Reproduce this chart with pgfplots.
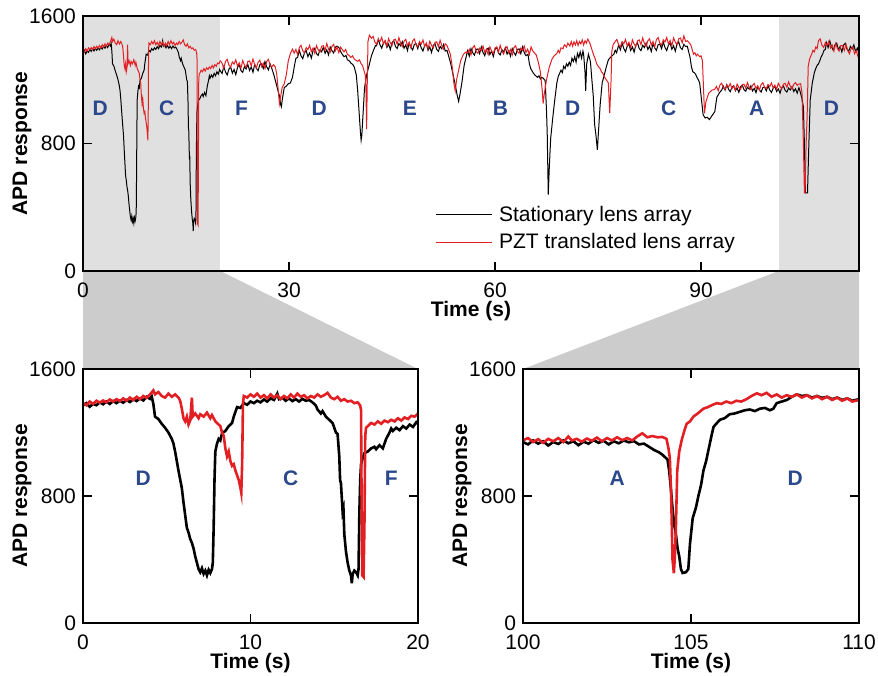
\documentclass[border=0pt]{standalone}
\usepackage{fontspec}
\setmainfont{Liberation Sans}
\usepackage{pgfplots}
\pgfplotsset{compat=1.18}
\usetikzlibrary{backgrounds}

\definecolor{traceRed}{RGB}{226,32,36}
\definecolor{letterBlue}{RGB}{44,72,140}
\definecolor{zoomLight}{RGB}{224,224,224}
\definecolor{zoomDark}{RGB}{204,204,204}

% stationary lens array, 0-20 s
\pgfplotstableread[row sep=\\]{t v\\
0.0 1370\\ 0.2 1385\\ 0.4 1362\\ 0.6 1380\\ 0.8 1372\\ 1.0 1390\\ 1.2 1378\\ 1.4 1395\\ 1.6 1380\\ 1.8 1398\\
2.0 1385\\ 2.2 1400\\ 2.4 1388\\ 2.6 1405\\ 2.8 1392\\ 3.0 1410\\ 3.2 1398\\ 3.4 1415\\ 3.6 1402\\ 3.8 1425\\
4.0 1412\\ 4.1 1428\\ 4.2 1380\\ 4.3 1300\\ 4.5 1285\\ 4.7 1255\\ 4.9 1230\\ 5.1 1200\\ 5.3 1160\\ 5.4 1130\\
5.5 1080\\ 5.6 1020\\ 5.7 960\\ 5.8 905\\ 5.9 850\\ 6.0 760\\ 6.1 680\\ 6.2 600\\ 6.3 570\\ 6.4 530\\
6.5 505\\ 6.6 470\\ 6.7 420\\ 6.8 380\\ 6.9 340\\ 7.0 320\\ 7.1 345\\ 7.2 310\\ 7.3 330\\ 7.4 300\\
7.5 335\\ 7.6 315\\ 7.7 340\\ 7.75 380\\ 7.8 600\\ 7.85 900\\ 7.9 1080\\ 8.0 1130\\ 8.1 1160\\ 8.2 1150\\
8.3 1195\\ 8.5 1210\\ 8.7 1240\\ 8.9 1260\\ 9.0 1300\\ 9.1 1330\\ 9.2 1360\\ 9.4 1355\\ 9.6 1385\\ 9.8 1375\\
10.0 1395\\ 10.2 1385\\ 10.4 1400\\ 10.6 1390\\ 10.8 1408\\ 11.0 1395\\ 11.2 1415\\ 11.4 1405\\ 11.6 1445\\ 11.7 1410\\
11.9 1420\\ 12.1 1400\\ 12.3 1415\\ 12.5 1398\\ 12.7 1410\\ 12.9 1395\\ 13.1 1412\\ 13.3 1400\\ 13.5 1405\\ 13.7 1390\\
13.9 1370\\ 14.0 1345\\ 14.2 1320\\ 14.3 1335\\ 14.5 1300\\ 14.7 1280\\ 14.9 1260\\ 15.0 1230\\ 15.1 1200\\ 15.2 1190\\
15.3 1050\\ 15.35 900\\ 15.4 880\\ 15.5 700\\ 15.55 720\\ 15.6 560\\ 15.7 450\\ 15.8 380\\ 15.9 330\\ 16.0 300\\
16.05 250\\ 16.1 310\\ 16.2 330\\ 16.3 320\\ 16.4 300\\ 16.45 340\\ 16.5 700\\ 16.55 900\\ 16.6 1000\\ 16.7 1040\\
16.8 1070\\ 17.0 1080\\ 17.2 1100\\ 17.4 1110\\ 17.5 1095\\ 17.7 1120\\ 17.9 1100\\ 18.0 1130\\ 18.1 1160\\ 18.3 1200\\
18.4 1225\\ 18.5 1210\\ 18.7 1230\\ 18.9 1215\\ 19.1 1240\\ 19.3 1225\\ 19.5 1250\\ 19.7 1235\\ 19.9 1265\\ 20.0 1255\\
}\blackA

% PZT translated lens array, 0-20 s
\pgfplotstableread[row sep=\\]{t v\\
0.0 1385\\ 0.2 1372\\ 0.4 1395\\ 0.6 1380\\ 0.8 1400\\ 1.0 1388\\ 1.2 1402\\ 1.4 1390\\ 1.6 1408\\ 1.8 1395\\
2.0 1410\\ 2.2 1398\\ 2.4 1415\\ 2.6 1400\\ 2.8 1420\\ 3.0 1405\\ 3.2 1425\\ 3.4 1410\\ 3.6 1430\\ 3.8 1418\\
4.0 1440\\ 4.2 1465\\ 4.3 1440\\ 4.5 1455\\ 4.7 1430\\ 4.9 1420\\ 5.1 1445\\ 5.3 1425\\ 5.5 1440\\ 5.7 1420\\
5.8 1400\\ 5.9 1350\\ 6.0 1290\\ 6.1 1270\\ 6.2 1300\\ 6.3 1250\\ 6.4 1275\\ 6.5 1420\\ 6.55 1300\\ 6.7 1320\\
6.9 1290\\ 7.0 1315\\ 7.2 1300\\ 7.4 1325\\ 7.6 1290\\ 7.7 1310\\ 7.9 1270\\ 8.0 1260\\ 8.2 1240\\ 8.3 1200\\
8.4 1180\\ 8.5 1100\\ 8.6 1050\\ 8.7 1080\\ 8.8 1020\\ 8.9 990\\ 9.0 1000\\ 9.1 960\\ 9.2 930\\ 9.3 900\\
9.4 850\\ 9.45 820\\ 9.5 1000\\ 9.55 1380\\ 9.6 1430\\ 9.8 1420\\ 10.0 1440\\ 10.2 1425\\ 10.4 1445\\ 10.6 1420\\
10.8 1435\\ 11.0 1415\\ 11.2 1440\\ 11.4 1420\\ 11.6 1435\\ 11.8 1410\\ 12.0 1430\\ 12.2 1415\\ 12.4 1440\\ 12.6 1420\\
12.8 1445\\ 13.0 1425\\ 13.2 1435\\ 13.4 1415\\ 13.6 1430\\ 13.8 1420\\ 14.0 1440\\ 14.2 1425\\ 14.4 1435\\ 14.6 1450\\
14.8 1420\\ 15.0 1410\\ 15.2 1425\\ 15.4 1400\\ 15.6 1410\\ 15.8 1395\\ 16.0 1400\\ 16.2 1385\\ 16.4 1390\\ 16.55 1370\\
16.6 1340\\ 16.63 800\\ 16.67 300\\ 16.75 290\\ 16.8 600\\ 16.85 1180\\ 16.9 1230\\ 17.0 1240\\ 17.2 1260\\ 17.4 1250\\
17.6 1270\\ 17.8 1255\\ 18.0 1275\\ 18.2 1265\\ 18.4 1280\\ 18.6 1270\\ 18.8 1290\\ 19.0 1275\\ 19.2 1295\\ 19.4 1285\\
19.6 1305\\ 19.8 1300\\ 20.0 1320\\
}\redA

% stationary lens array, 20-113 s (overview only)
\pgfplotstableread[row sep=\\]{t v\\
20.0 1255\\ 20.25 1239\\ 20.5 1283\\ 20.75 1249\\ 21.0 1230\\ 21.25 1267\\ 21.5 1280\\ 21.75 1241\\ 22.0 1265\\ 22.25 1232\\
22.5 1278\\ 22.75 1293\\ 23.0 1258\\ 23.25 1247\\ 23.5 1281\\ 23.75 1268\\ 24.0 1296\\ 24.25 1258\\ 24.5 1280\\ 24.75 1247\\
25.0 1297\\ 25.25 1272\\ 25.5 1257\\ 25.75 1294\\ 26.0 1300\\ 26.25 1271\\ 26.5 1314\\ 26.75 1281\\ 27.0 1262\\ 27.25 1298\\
27.5 1270\\ 27.8 1230\\ 28.1 1180\\ 28.4 1130\\ 28.6 1100\\ 28.8 1040\\ 28.9 1030\\ 29.0 1070\\ 29.3 1150\\ 29.6 1160\\
29.9 1175\\ 30.2 1180\\ 30.5 1215\\ 30.8 1290\\ 31.0 1335\\ 31.25 1340\\ 31.5 1384\\ 31.75 1350\\ 32.0 1332\\ 32.25 1369\\
32.5 1383\\ 32.75 1345\\ 33.0 1368\\ 33.25 1336\\ 33.5 1383\\ 33.75 1398\\ 34.0 1364\\ 34.25 1353\\ 34.5 1387\\ 34.75 1375\\
35.0 1404\\ 35.25 1366\\ 35.5 1388\\ 35.75 1356\\ 36.0 1406\\ 36.25 1382\\ 36.5 1368\\ 36.75 1405\\ 37.0 1411\\ 37.3 1400\\
37.6 1370\\ 38.0 1345\\ 38.3 1352\\ 38.5 1325\\ 38.8 1318\\ 39.0 1305\\ 39.3 1295\\ 39.5 1280\\ 39.8 1230\\ 40.0 1130\\
40.2 1000\\ 40.4 870\\ 40.5 820\\ 40.6 850\\ 40.8 1000\\ 41.0 1150\\ 41.3 1230\\ 41.6 1280\\ 42.0 1350\\ 42.3 1385\\
42.6 1415\\ 42.75 1413\\ 43.0 1454\\ 43.25 1419\\ 43.5 1398\\ 43.75 1432\\ 44.0 1443\\ 44.25 1403\\ 44.5 1424\\ 44.75 1389\\
45.0 1433\\ 45.25 1446\\ 45.5 1409\\ 45.75 1396\\ 46.0 1427\\ 46.25 1413\\ 46.5 1439\\ 46.75 1398\\ 47.0 1418\\ 47.25 1383\\
47.5 1431\\ 47.75 1404\\ 48.0 1387\\ 48.25 1422\\ 48.5 1426\\ 48.75 1395\\ 49.0 1436\\ 49.25 1400\\ 49.5 1380\\ 49.75 1414\\
50.0 1425\\ 50.25 1384\\ 50.5 1406\\ 50.75 1371\\ 51.0 1415\\ 51.25 1427\\ 51.5 1391\\ 51.75 1378\\ 52.0 1409\\ 52.25 1394\\
52.5 1421\\ 52.75 1380\\ 53.0 1385\\ 53.5 1310\\ 53.8 1250\\ 54.2 1170\\ 54.5 1100\\ 54.7 1065\\ 54.9 1110\\ 55.2 1190\\
55.5 1290\\ 55.8 1345\\ 56.0 1382\\ 56.25 1348\\ 56.5 1396\\ 56.75 1370\\ 57.0 1354\\ 57.25 1390\\ 57.5 1394\\ 57.75 1364\\
58.0 1406\\ 58.25 1371\\ 58.5 1351\\ 58.75 1386\\ 59.0 1398\\ 59.25 1358\\ 59.5 1380\\ 59.75 1346\\ 60.0 1391\\ 60.25 1404\\
60.5 1368\\ 60.75 1356\\ 61.0 1388\\ 61.25 1374\\ 61.5 1401\\ 61.75 1361\\ 62.0 1382\\ 62.25 1348\\ 62.5 1396\\ 62.75 1370\\
63.0 1354\\ 63.25 1390\\ 63.5 1394\\ 63.75 1364\\ 64.0 1406\\ 64.25 1371\\ 64.5 1351\\ 64.8 1360\\ 65.0 1300\\ 65.2 1270\\
65.4 1255\\ 65.6 1240\\ 65.8 1230\\ 66.0 1222\\ 66.2 1215\\ 66.4 1225\\ 66.6 1205\\ 66.8 1215\\ 67.0 1210\\ 67.3 1195\\
67.5 1000\\ 67.6 860\\ 67.75 480\\ 67.9 650\\ 68.1 830\\ 68.4 960\\ 68.7 1075\\ 69.0 1180\\ 69.2 1220\\ 69.4 1240\\
69.6 1260\\ 69.8 1245\\ 70.0 1285\\ 70.2 1270\\ 70.4 1300\\ 70.6 1285\\ 70.8 1310\\ 71.0 1290\\ 71.2 1335\\ 71.4 1315\\
71.6 1345\\ 71.8 1310\\ 72.0 1365\\ 72.2 1340\\ 72.4 1375\\ 72.6 1335\\ 72.8 1380\\ 72.9 1360\\ 73.1 1250\\ 73.2 1130\\
73.35 1300\\ 73.6 1360\\ 73.8 1330\\ 73.9 1310\\ 74.1 1200\\ 74.3 1100\\ 74.5 920\\ 74.7 850\\ 74.9 760\\ 75.1 900\\
75.3 1040\\ 75.6 1180\\ 75.9 1230\\ 76.2 1280\\ 76.5 1325\\ 76.9 1345\\ 77.3 1360\\ 77.5 1385\\ 77.7 1370\\ 78.0 1418\\
78.25 1388\\ 78.5 1430\\ 78.75 1396\\ 79.0 1376\\ 79.25 1411\\ 79.5 1423\\ 79.75 1384\\ 80.0 1406\\ 80.25 1373\\ 80.5 1418\\
80.75 1431\\ 81.0 1395\\ 81.25 1383\\ 81.5 1416\\ 81.75 1402\\ 82.0 1430\\ 82.25 1390\\ 82.5 1411\\ 82.75 1377\\ 83.0 1426\\
83.25 1400\\ 83.5 1384\\ 83.75 1420\\ 84.0 1424\\ 84.25 1395\\ 84.5 1437\\ 84.75 1402\\ 85.0 1383\\ 85.25 1418\\ 85.5 1430\\
85.75 1391\\ 86.0 1413\\ 86.25 1379\\ 86.5 1424\\ 86.75 1437\\ 87.0 1401\\ 87.25 1390\\ 87.5 1422\\ 87.75 1408\\ 88.0 1410\\
88.4 1340\\ 88.6 1280\\ 88.8 1250\\ 89.0 1245\\ 89.2 1235\\ 89.4 1215\\ 89.6 1200\\ 89.8 1180\\ 90.0 1100\\ 90.3 980\\
90.6 960\\ 90.9 965\\ 91.2 950\\ 91.6 975\\ 92.0 1000\\ 92.3 1090\\ 92.7 1120\\ 93.0 1135\\ 93.25 1159\\ 93.5 1135\\
93.75 1169\\ 94.0 1141\\ 94.25 1125\\ 94.5 1153\\ 94.75 1163\\ 95.0 1131\\ 95.25 1148\\ 95.5 1121\\ 95.75 1156\\ 96.0 1166\\
96.25 1138\\ 96.5 1128\\ 96.75 1153\\ 97.0 1141\\ 97.25 1162\\ 97.5 1130\\ 97.75 1146\\ 98.0 1119\\ 98.25 1157\\ 98.5 1136\\
98.75 1123\\ 99.0 1151\\ 99.25 1154\\ 99.5 1130\\ 99.75 1163\\ 100.0 1136\\ 100.25 1120\\ 100.5 1147\\ 100.75 1157\\ 101.0 1126\\
101.25 1142\\ 101.5 1116\\ 101.75 1151\\ 102.0 1160\\ 102.25 1133\\ 102.5 1123\\ 102.75 1148\\ 103.0 1136\\ 103.25 1157\\ 103.5 1126\\
103.75 1143\\ 104.0 1116\\ 104.25 1150\\ 104.4 1130\\ 104.7 1080\\ 104.9 1030\\ 105.05 800\\ 105.2 490\\ 105.5 490\\ 105.7 800\\
105.9 1075\\ 106.2 1180\\ 106.5 1245\\ 106.7 1270\\ 106.9 1290\\ 107.1 1300\\ 107.3 1320\\ 107.5 1345\\ 107.7 1360\\ 107.9 1385\\
108.1 1390\\ 108.25 1433\\ 108.5 1402\\ 108.75 1443\\ 109.0 1406\\ 109.25 1385\\ 109.5 1419\\ 109.75 1430\\ 110.0 1388\\ 110.25 1409\\
110.5 1374\\ 110.75 1417\\ 111.0 1429\\ 111.25 1392\\ 111.5 1378\\ 111.75 1409\\ 112.0 1394\\ 112.25 1419\\ 112.5 1378\\ 112.75 1398\\
113.0 1362\\
}\blackB

% PZT translated lens array, 20-113 s (overview only)
\pgfplotstableread[row sep=\\]{t v\\
20.0 1320\\ 20.25 1304\\ 20.5 1270\\ 20.75 1315\\ 21.0 1328\\ 21.25 1292\\ 21.5 1280\\ 21.75 1312\\ 22.0 1298\\ 22.25 1325\\
22.5 1285\\ 22.75 1306\\ 23.0 1272\\ 23.25 1320\\ 23.5 1294\\ 23.75 1278\\ 24.0 1314\\ 24.25 1318\\ 24.5 1288\\ 24.75 1330\\
25.0 1295\\ 25.25 1275\\ 25.5 1310\\ 25.75 1322\\ 26.0 1282\\ 26.25 1304\\ 26.5 1270\\ 26.75 1315\\ 27.0 1328\\ 27.25 1292\\
27.5 1280\\ 27.75 1295\\ 28.0 1280\\ 28.2 1240\\ 28.4 1150\\ 28.6 1050\\ 28.8 1100\\ 29.0 1150\\ 29.3 1175\\ 29.6 1230\\
29.9 1320\\ 30.2 1365\\ 30.5 1392\\ 30.75 1367\\ 31.0 1390\\ 31.25 1357\\ 31.5 1402\\ 31.75 1416\\ 32.0 1381\\ 32.25 1369\\
32.5 1402\\ 32.75 1389\\ 33.0 1416\\ 33.25 1377\\ 33.5 1399\\ 33.75 1366\\ 34.0 1414\\ 34.25 1389\\ 34.5 1373\\ 34.75 1410\\
35.0 1414\\ 35.25 1385\\ 35.5 1428\\ 35.75 1393\\ 36.0 1373\\ 36.25 1409\\ 36.5 1422\\ 36.75 1382\\ 37.0 1404\\ 37.25 1370\\
37.5 1405\\ 38.0 1375\\ 38.25 1390\\ 38.5 1360\\ 38.75 1352\\ 39.0 1340\\ 39.25 1350\\ 39.5 1330\\ 39.75 1322\\ 40.0 1315\\
40.25 1325\\ 40.5 1300\\ 40.7 1290\\ 40.9 1260\\ 41.1 1230\\ 41.2 1150\\ 41.3 890\\ 41.4 1200\\ 41.5 1440\\ 41.7 1480\\
42.0 1460\\ 42.25 1472\\ 42.5 1436\\ 42.75 1423\\ 43.0 1454\\ 43.25 1440\\ 43.5 1466\\ 43.75 1425\\ 44.0 1446\\ 44.25 1411\\
44.5 1458\\ 44.75 1432\\ 45.0 1415\\ 45.25 1450\\ 45.5 1454\\ 45.75 1423\\ 46.0 1464\\ 46.25 1429\\ 46.5 1408\\ 46.75 1442\\
47.0 1454\\ 47.25 1413\\ 47.5 1434\\ 47.75 1400\\ 48.0 1444\\ 48.25 1456\\ 48.5 1420\\ 48.75 1407\\ 49.0 1438\\ 49.25 1424\\
49.5 1450\\ 49.75 1409\\ 50.0 1430\\ 50.25 1395\\ 50.5 1442\\ 50.75 1416\\ 51.0 1399\\ 51.25 1434\\ 51.5 1438\\ 51.75 1407\\
52.0 1448\\ 52.25 1413\\ 52.5 1392\\ 52.75 1426\\ 53.0 1415\\ 53.5 1360\\ 53.8 1270\\ 54.0 1180\\ 54.2 1130\\ 54.4 1200\\
54.7 1260\\ 55.0 1320\\ 55.4 1360\\ 55.8 1375\\ 56.0 1368\\ 56.25 1390\\ 56.5 1356\\ 56.75 1401\\ 57.0 1414\\ 57.25 1378\\
57.5 1366\\ 57.75 1398\\ 58.0 1384\\ 58.25 1411\\ 58.5 1371\\ 58.75 1392\\ 59.0 1358\\ 59.25 1406\\ 59.5 1380\\ 59.75 1364\\
60.0 1400\\ 60.25 1404\\ 60.5 1374\\ 60.75 1416\\ 61.0 1381\\ 61.25 1361\\ 61.5 1396\\ 61.75 1408\\ 62.0 1368\\ 62.25 1390\\
62.5 1356\\ 62.75 1401\\ 63.0 1414\\ 63.25 1378\\ 63.5 1366\\ 63.75 1398\\ 64.0 1384\\ 64.25 1411\\ 64.5 1371\\ 64.75 1392\\
65.0 1358\\ 65.25 1406\\ 65.5 1380\\ 66.0 1356\\ 66.3 1310\\ 66.6 1250\\ 66.9 1120\\ 67.0 1050\\ 67.2 1120\\ 67.5 1200\\
67.9 1280\\ 68.3 1330\\ 68.6 1350\\ 69.0 1365\\ 69.2 1385\\ 69.4 1370\\ 69.6 1400\\ 69.9 1395\\ 70.1 1420\\ 70.4 1405\\
70.6 1430\\ 70.9 1412\\ 71.1 1440\\ 71.3 1410\\ 71.5 1438\\ 71.7 1418\\ 71.9 1445\\ 72.1 1415\\ 72.3 1440\\ 72.5 1425\\
72.7 1450\\ 72.9 1418\\ 73.1 1445\\ 73.3 1430\\ 73.5 1455\\ 73.8 1430\\ 74.1 1390\\ 74.4 1350\\ 74.6 1330\\ 74.8 1300\\
75.1 1280\\ 75.3 1270\\ 75.5 1250\\ 75.7 1240\\ 75.9 1220\\ 76.2 1200\\ 76.5 1180\\ 76.7 990\\ 76.9 1200\\ 77.0 1380\\
77.2 1420\\ 77.5 1440\\ 77.75 1453\\ 78.0 1418\\ 78.25 1406\\ 78.5 1439\\ 78.75 1425\\ 79.0 1453\\ 79.25 1413\\ 79.5 1435\\
79.75 1401\\ 80.0 1450\\ 80.25 1424\\ 80.5 1409\\ 80.75 1445\\ 81.0 1450\\ 81.25 1420\\ 81.5 1463\\ 81.75 1428\\ 82.0 1409\\
82.25 1444\\ 82.5 1457\\ 82.75 1417\\ 83.0 1440\\ 83.25 1406\\ 83.5 1452\\ 83.75 1465\\ 84.0 1430\\ 84.25 1418\\ 84.5 1451\\
84.75 1437\\ 85.0 1465\\ 85.25 1425\\ 85.5 1447\\ 85.75 1413\\ 86.0 1462\\ 86.25 1436\\ 86.5 1421\\ 86.75 1457\\ 87.0 1462\\
87.25 1432\\ 87.5 1475\\ 87.75 1440\\ 88.0 1445\\ 88.5 1420\\ 88.9 1360\\ 89.1 1370\\ 89.3 1350\\ 89.5 1360\\ 89.8 1345\\
90.0 1350\\ 90.2 1320\\ 90.4 1100\\ 90.5 990\\ 90.7 1060\\ 91.1 1115\\ 91.6 1135\\ 92.0 1141\\ 92.25 1158\\ 92.5 1131\\
92.75 1167\\ 93.0 1178\\ 93.25 1150\\ 93.5 1140\\ 93.75 1166\\ 94.0 1154\\ 94.25 1176\\ 94.5 1144\\ 94.75 1161\\ 95.0 1135\\
95.25 1173\\ 95.5 1152\\ 95.75 1139\\ 96.0 1168\\ 96.25 1172\\ 96.5 1148\\ 96.75 1182\\ 97.0 1154\\ 97.25 1138\\ 97.5 1166\\
97.75 1176\\ 98.0 1145\\ 98.25 1162\\ 98.5 1135\\ 98.75 1171\\ 99.0 1181\\ 99.25 1154\\ 99.5 1144\\ 99.75 1170\\ 100.0 1158\\
100.25 1180\\ 100.5 1149\\ 100.75 1166\\ 101.0 1140\\ 101.25 1178\\ 101.5 1157\\ 101.75 1144\\ 102.0 1173\\ 102.25 1177\\ 102.5 1153\\
102.75 1187\\ 103.0 1159\\ 103.25 1143\\ 103.5 1172\\ 103.75 1182\\ 104.0 1165\\ 104.2 1172\\ 104.5 1175\\ 104.7 1115\\ 104.9 800\\
105.05 490\\ 105.15 490\\ 105.3 800\\ 105.45 970\\ 105.6 1283\\ 105.8 1330\\ 106.1 1360\\ 106.3 1385\\ 106.5 1375\\ 106.7 1405\\
106.9 1395\\ 107.1 1445\\ 107.35 1456\\ 107.6 1417\\ 107.85 1403\\ 108.1 1433\\ 108.35 1416\\ 108.6 1441\\ 108.85 1399\\ 109.1 1417\\
109.35 1381\\ 109.6 1427\\ 109.85 1398\\ 110.1 1380\\ 110.35 1414\\ 110.6 1415\\ 110.85 1383\\ 111.1 1423\\ 111.35 1385\\ 111.6 1363\\
111.85 1396\\ 112.1 1405\\ 112.35 1363\\ 112.6 1383\\ 112.85 1346\\ 113.0 1375\\
}\redB

% stationary lens array, 100-110 s
\pgfplotstableread[row sep=\\]{t v\\
100.0 1140\\ 100.15 1125\\ 100.3 1150\\ 100.45 1130\\ 100.6 1145\\ 100.75 1118\\ 100.9 1140\\ 101.05 1128\\ 101.2 1150\\ 101.35 1132\\
101.5 1145\\ 101.65 1120\\ 101.8 1142\\ 101.95 1130\\ 102.1 1152\\ 102.25 1135\\ 102.4 1148\\ 102.55 1125\\ 102.7 1145\\ 102.85 1132\\
103.0 1150\\ 103.15 1138\\ 103.3 1146\\ 103.45 1125\\ 103.6 1130\\ 103.75 1110\\ 103.9 1090\\ 104.05 1075\\ 104.15 1060\\ 104.3 1030\\
104.35 960\\ 104.4 850\\ 104.45 720\\ 104.5 620\\ 104.55 560\\ 104.6 470\\ 104.65 420\\ 104.7 340\\ 104.75 315\\ 104.85 320\\
104.92 340\\ 104.97 500\\ 105.05 660\\ 105.15 730\\ 105.22 800\\ 105.3 870\\ 105.37 960\\ 105.45 1020\\ 105.52 1090\\ 105.6 1170\\
105.67 1235\\ 105.75 1255\\ 105.86 1280\\ 106.0 1290\\ 106.15 1315\\ 106.3 1320\\ 106.45 1330\\ 106.6 1340\\ 106.75 1345\\ 106.9 1335\\
107.05 1350\\ 107.2 1355\\ 107.35 1340\\ 107.45 1350\\ 107.55 1385\\ 107.7 1395\\ 107.85 1405\\ 108.0 1425\\ 108.15 1440\\ 108.3 1430\\
108.45 1435\\ 108.6 1420\\ 108.75 1430\\ 108.9 1418\\ 109.05 1425\\ 109.2 1410\\ 109.35 1420\\ 109.5 1405\\ 109.65 1415\\ 109.8 1400\\
110.0 1410\\
}\blackC

% PZT translated lens array, 100-110 s
\pgfplotstableread[row sep=\\]{t v\\
100.0 1150\\ 100.15 1165\\ 100.3 1140\\ 100.45 1158\\ 100.6 1135\\ 100.75 1160\\ 100.9 1145\\ 101.05 1165\\ 101.2 1140\\ 101.35 1175\\
101.45 1150\\ 101.6 1160\\ 101.75 1142\\ 101.9 1162\\ 102.05 1148\\ 102.2 1168\\ 102.35 1145\\ 102.5 1165\\ 102.65 1150\\ 102.8 1170\\
102.95 1152\\ 103.1 1165\\ 103.25 1150\\ 103.4 1175\\ 103.55 1195\\ 103.7 1170\\ 103.85 1178\\ 104.0 1170\\ 104.15 1172\\ 104.27 1160\\
104.33 1100\\ 104.37 1040\\ 104.41 800\\ 104.45 400\\ 104.49 314\\ 104.52 420\\ 104.55 600\\ 104.59 960\\ 104.65 1080\\ 104.72 1150\\
104.8 1210\\ 104.87 1255\\ 104.97 1270\\ 105.07 1300\\ 105.2 1320\\ 105.37 1350\\ 105.5 1360\\ 105.65 1375\\ 105.77 1385\\ 105.9 1380\\
106.05 1395\\ 106.2 1385\\ 106.35 1400\\ 106.5 1395\\ 106.65 1410\\ 106.8 1430\\ 106.96 1447\\ 107.1 1435\\ 107.25 1450\\ 107.4 1425\\
107.55 1440\\ 107.7 1420\\ 107.85 1435\\ 108.0 1425\\ 108.15 1440\\ 108.3 1420\\ 108.45 1435\\ 108.6 1415\\ 108.75 1430\\ 108.9 1410\\
109.05 1425\\ 109.2 1405\\ 109.35 1420\\ 109.5 1400\\ 109.65 1415\\ 109.8 1395\\ 110.0 1405\\
}\redC

\tikzset{zone/.style={font=\bfseries\fontsize{10.5}{12}\selectfont, text=letterBlue}}

\pgfplotsset{
  apd/.style={
    scale only axis, axis on top,
    ymin=0, ymax=1600, ytick={0,800,1600},
    tick align=inside, major tick length=4.5pt,
    axis line style={line width=1pt},
    every tick/.style={line width=0.8pt, black},
    tick label style={font=\fontsize{10.5}{12}\selectfont},
    /pgf/number format/assume math mode=true,
    /pgf/number format/1000 sep={},
    label style={font=\bfseries\fontsize{10.5}{12}\selectfont},
    xlabel={Time (s)}, ylabel={APD response},
    xticklabel style={yshift=-2.3pt},
    xlabel style={at={(axis description cs:0.5,-0.157)}, anchor=center},
  },
}

\begin{document}
\begin{tikzpicture}
\useasboundingbox (0,0) rectangle (439pt,-337.5pt);

\begin{axis}[apd, name=top,
  at={(41.5pt,-135.5pt)}, anchor=south west,
  width=388pt, height=127.5pt,
  xmin=0, xmax=113, xtick={0,30,60,90},
  ylabel style={at={(axis description cs:-0.0786,0.5)}, anchor=center},
  legend style={at={(axis description cs:0.453,0.273)}, anchor=north west,
    draw=none, fill=none, font=\fontsize{10.5}{12}\selectfont,
    row sep=0.5pt, inner sep=0pt},
  legend cell align=left,
  legend image code/.code={\draw[#1, line width=0.6pt] (0pt,0pt) -- (28pt,0pt); \path (29.5pt,0pt);},
]
\fill[zoomLight] (axis cs:0,0) rectangle (axis cs:20,1600);
\fill[zoomLight] (axis cs:101.3,0) rectangle (axis cs:113,1600);
\coordinate (zl) at (axis cs:20,0);
\coordinate (zr) at (axis cs:101.3,0);
\addplot[black, line width=0.5pt, forget plot] table[x=t, y=v] {\blackB};
\addplot[black, line width=0.5pt] table[x=t, y=v] {\blackA};
\addlegendentry{Stationary lens array}
\addplot[traceRed, line width=0.5pt, forget plot] table[x=t, y=v] {\redB};
\addplot[traceRed, line width=0.5pt] table[x=t, y=v] {\redA};
\addlegendentry{PZT translated lens array}
\node[zone] at (axis cs:2.5,1020) {D};
\node[zone] at (axis cs:12.2,1020) {C};
\node[zone] at (axis cs:23.1,1020) {F};
\node[zone] at (axis cs:34.4,1020) {D};
\node[zone] at (axis cs:47.6,1020) {E};
\node[zone] at (axis cs:60.8,1020) {B};
\node[zone] at (axis cs:71.3,1020) {D};
\node[zone] at (axis cs:85.3,1020) {C};
\node[zone] at (axis cs:98.1,1020) {A};
\node[zone] at (axis cs:109,1020) {D};
\end{axis}

\begin{axis}[apd, name=bl,
  at={(41.5pt,-311.5pt)}, anchor=south west,
  width=167.5pt, height=127pt,
  xmin=0, xmax=20, xtick={0,10,20},
  ylabel style={at={(axis description cs:-0.182,0.5)}, anchor=center},
]
\addplot[black, line width=1.3pt] table[x=t, y=v] {\blackA};
\addplot[traceRed, line width=1.3pt] table[x=t, y=v] {\redA};
\node[zone] at (axis cs:3.6,913) {D};
\node[zone] at (axis cs:12.4,913) {C};
\node[zone] at (axis cs:18.4,913) {F};
\end{axis}

\begin{axis}[apd, name=br,
  at={(261.5pt,-311.5pt)}, anchor=south west,
  width=168pt, height=127pt,
  xmin=100, xmax=110, xtick={100,105,110},
  ylabel style={at={(axis description cs:-0.1815,0.5)}, anchor=center},
]
\addplot[black, line width=1.3pt] table[x=t, y=v] {\blackC};
\addplot[traceRed, line width=1.3pt] table[x=t, y=v] {\redC};
\node[zone] at (axis cs:102.8,913) {A};
\node[zone] at (axis cs:108.1,913) {D};
\end{axis}

\begin{pgfonlayer}{background}
\fill[zoomDark] (top.south west) -- (zl) -- (bl.north east) -- (bl.north west) -- cycle;
\fill[zoomDark] (zr) -- (top.south east) -- (br.north east) -- (br.north west) -- cycle;
\end{pgfonlayer}
\end{tikzpicture}
\end{document}
